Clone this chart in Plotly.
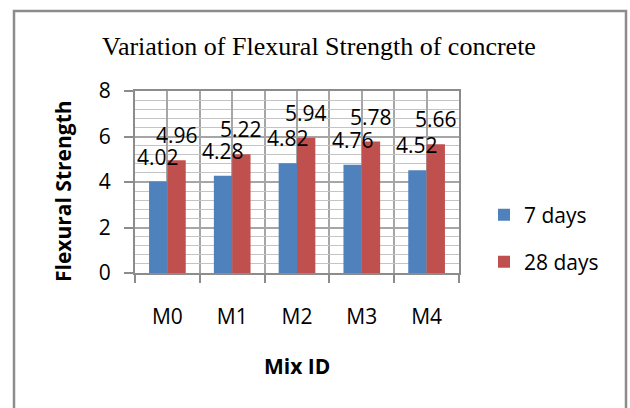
import plotly.graph_objects as go

# Flexural strength (MPa) for each mix at two curing ages
mix_ids = ["M0", "M1", "M2", "M3", "M4"]
days_7 = [4.02, 4.28, 4.82, 4.76, 4.52]
days_28 = [4.96, 5.22, 5.94, 5.78, 5.66]
series_names = ["7 days", "28 days"]
y_ticks = [0, 2, 4, 6, 8]

BLUE = "#4F81BD"
RED = "#C0504D"
LABEL_FONT = "Open Sans"

W, H = 630, 408
L, R, T, B = 135, 171, 91, 135
PW, PH = W - L - R, H - T - B

xpos = list(range(len(mix_ids)))
bounds = [i - 0.5 for i in range(len(mix_ids) + 1)]

fig = go.Figure()
fig.add_trace(go.Bar(x=xpos, y=days_7, name=series_names[0], marker_color=BLUE,
                     marker_line_width=0, legend="legend"))
fig.add_trace(go.Bar(x=xpos, y=days_28, name=series_names[1], marker_color=RED,
                     marker_line_width=0, legend="legend2"))

# value labels above each bar
bargap = 0.434
half_bar_px = PW / len(mix_ids) * (1 - bargap) / 4
annotations = []
for vals, shift in ((days_7, -half_bar_px), (days_28, half_bar_px)):
    for xi, v in zip(xpos, vals):
        annotations.append(dict(x=xi, y=v, xref="x", yref="y", text=f"{v:.2f}",
                                showarrow=False, xshift=shift, yshift=25,
                                yanchor="middle", xanchor="center",
                                font=dict(family=LABEL_FONT, size=21, color="black")))

def px_x(p):
    return (p - L) / PW

def px_y(p):
    return (H - B - p) / PH

annotations += [
    dict(text="Variation of Flexural Strength of concrete", xref="paper", yref="paper",
         x=px_x(319), y=px_y(46), showarrow=False, xanchor="center", yanchor="middle",
         font=dict(family="Liberation Serif", size=26, color="black")),
    dict(text="<b>Flexural Strength</b>", xref="paper", yref="paper", textangle=-90,
         x=px_x(63), y=px_y(191), showarrow=False, xanchor="center", yanchor="middle",
         font=dict(family=LABEL_FONT, size=21, color="black")),
    dict(text="<b>Mix ID</b>", xref="paper", yref="paper",
         x=px_x(297), y=px_y(366), showarrow=False, xanchor="center", yanchor="middle",
         font=dict(family=LABEL_FONT, size=21, color="black")),
]

legend_common = dict(xanchor="left", yanchor="middle", bgcolor="rgba(0,0,0,0)",
                     font=dict(family=LABEL_FONT, size=21, color="black"),
                     borderwidth=0)

fig.update_layout(
    width=W, height=H,
    margin=dict(l=L, r=R, t=T, b=B),
    paper_bgcolor="white", plot_bgcolor="white",
    barmode="group", bargap=bargap, bargroupgap=0,
    showlegend=True,
    legend=dict(x=px_x(484), y=px_y(215), **legend_common),
    legend2=dict(x=px_x(484), y=px_y(262), **legend_common),
    annotations=annotations,
    shapes=[dict(type="rect", xref="paper", yref="paper",
                 x0=px_x(14), x1=px_x(626), y0=px_y(11), y1=px_y(440),
                 line=dict(color="#8c8c8c", width=2.5), layer="below")],
)

fig.update_xaxes(
    range=[-0.5, len(mix_ids) - 0.5],
    tickvals=xpos, ticktext=mix_ids, ticks="",
    tickfont=dict(family=LABEL_FONT, size=21, color="black"),
    showgrid=True, gridcolor="#a6a6a6", gridwidth=1.5,
    showline=True, linecolor="#8c8c8c", linewidth=2, mirror=True,
    zeroline=False, fixedrange=True,
    minor=dict(tickvals=bounds, ticks="outside", ticklen=8, tickcolor="#8c8c8c",
               tickwidth=2, showgrid=True, gridcolor="#a6a6a6", gridwidth=2),
    ticklabelstandoff=24,
)
fig.update_yaxes(
    range=[0, 8], tickvals=y_ticks, ticks="outside", ticklen=9,
    tickcolor="#8c8c8c", tickwidth=2,
    tickfont=dict(family=LABEL_FONT, size=21, color="black"),
    showgrid=True, gridcolor="#a6a6a6", gridwidth=2,
    showline=True, linecolor="#8c8c8c", linewidth=2, mirror=True,
    zeroline=False,
    minor=dict(dtick=0.4, showgrid=True, gridcolor="#c4c4c4", gridwidth=1),
    ticklabelstandoff=9,
)

fig.write_html("out.html")
